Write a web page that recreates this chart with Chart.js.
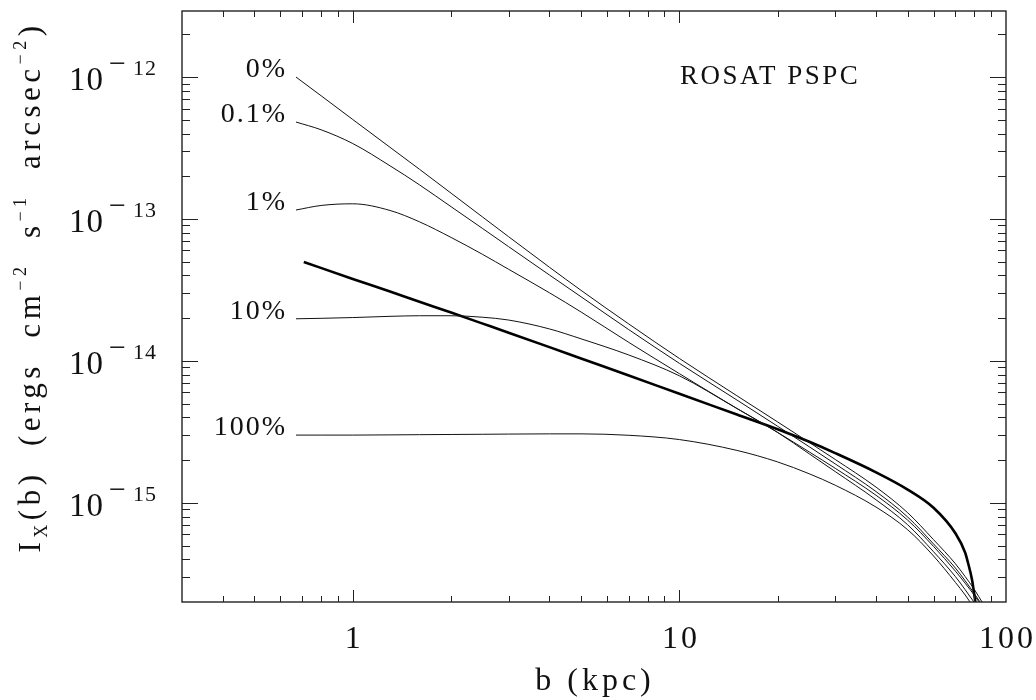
<!DOCTYPE html>
<html>
<head>
<meta charset="utf-8">
<script src="https://cdn.jsdelivr.net/npm/chart.js@4.4.1/dist/chart.umd.min.js"></script>
<style>
  body { margin: 0; background: #fff; }
  canvas { display: block; }
</style>
</head>
<body>
<canvas id="sbChart" width="1036" height="700"></canvas>
<script>
// projected radius b (kpc) for the thin model curves
const bModel = [0.67, 0.8, 1, 1.3, 1.6, 2, 2.5, 3, 4, 5, 7, 10, 15, 20, 25, 30, 40, 50, 60, 70, 75, 80, 85];

// surface brightness I_X(b), ergs cm^-2 s^-1 arcsec^-2
const sb0   = [1.00e-12, 7.38e-13, 5.02e-13, 3.20e-13, 2.24e-13, 1.52e-13, 1.03e-13, 7.50e-14, 4.57e-14, 3.14e-14, 1.82e-14, 1.04e-14, 5.68e-15, 3.71e-15, 2.66e-15, 2.02e-15, 1.29e-15, 8.51e-16, 5.50e-16, 3.72e-16, 3.02e-16, 2.45e-16, 1.95e-16];
const sb01  = [4.82e-13, 4.25e-13, 3.40e-13, 2.37e-13, 1.74e-13, 1.22e-13, 8.55e-14, 6.38e-14, 4.03e-14, 2.83e-14, 1.66e-14, 9.61e-15, 5.30e-15, 3.46e-15, 2.48e-15, 1.88e-15, 1.20e-15, 7.94e-16, 5.13e-16, 3.47e-16, 2.82e-16, 2.29e-16, 1.86e-16];
const sb1   = [1.156e-13, 1.245e-13, 1.279e-13, 1.148e-13, 9.55e-14, 7.41e-14, 5.62e-14, 4.42e-14, 3.02e-14, 2.21e-14, 1.35e-14, 8.13e-15, 4.62e-15, 3.13e-15, 2.28e-15, 1.75e-15, 1.13e-15, 7.55e-16, 4.93e-16, 3.30e-16, 2.71e-16, 2.23e-16, 1.83e-16];
const sb10  = [1.98e-14, 1.995e-14, 2.02e-14, 2.06e-14, 2.08e-14, 2.08e-14, 2.03e-14, 1.94e-14, 1.68e-14, 1.43e-14, 1.10e-14, 7.85e-15, 4.62e-15, 3.13e-15, 2.21e-15, 1.66e-15, 1.05e-15, 7.00e-16, 4.52e-16, 3.02e-16, 2.44e-16, 1.98e-16, 1.62e-16];
const sb100 = [3.00e-15, 3.00e-15, 3.00e-15, 3.01e-15, 3.02e-15, 3.03e-15, 3.04e-15, 3.05e-15, 3.06e-15, 3.06e-15, 2.99e-15, 2.79e-15, 2.34e-15, 1.94e-15, 1.60e-15, 1.33e-15, 9.33e-16, 6.46e-16, 4.22e-16, 2.75e-16, 2.24e-16, 1.80e-16, 1.45e-16];

// heavy curve
const bThick  = [0.708, 1, 1.3, 1.6, 2, 2.5, 3, 4, 5, 7, 10, 15, 20, 25, 30, 40, 50, 60, 70, 75, 76.5, 78.7, 80, 81.5];
const sbThick = [4.98e-14, 3.78e-14, 3.08e-14, 2.61e-14, 2.19e-14, 1.83e-14, 1.58e-14, 1.25e-14, 1.04e-14, 7.89e-15, 5.86e-15, 4.19e-15, 3.30e-15, 2.69e-15, 2.24e-15, 1.64e-15, 1.24e-15, 9.23e-16, 6.10e-16, 4.45e-16, 3.78e-16, 2.87e-16, 2.24e-16, 1.66e-16];

const curveLabels = ['0%', '0.1%', '1%', '10%', '100%'];
const xTickLabels = [1, 10, 100];
const yTickExps = [-12, -13, -14, -15];

const SERIF = '"Liberation Serif", "DejaVu Serif", serif';

function pts(xs, ys) {
    return xs.map((b, i) => ({ x: b, y: ys[i] }));
}

function thin(label, ys) {
    return {
        label: label,
        data: pts(bModel, ys),
        borderColor: '#111',
        borderWidth: 1,
        pointRadius: 0,
        cubicInterpolationMode: 'monotone'
    };
}

// box, inward ticks on all four sides, tick labels and titles
const decor = {
    id: 'decor',
    afterDraw(chart) {
        const { ctx, chartArea: a, scales: { x, y } } = chart;
        ctx.save();

        ctx.strokeStyle = '#222';
        ctx.lineWidth = 1.4;
        ctx.strokeRect(a.left, a.top, a.right - a.left, a.bottom - a.top);

        ctx.lineWidth = 1;
        ctx.beginPath();
        for (let e = -1; e <= 2; e++) {
            for (let k = 1; k <= 9; k++) {
                const v = k * Math.pow(10, e);
                if (v <= x.min * 1.001 || v >= x.max * 0.999) continue;
                const px = Math.round(x.getPixelForValue(v)) + 0.5;
                const len = k === 1 ? 12 : 6;
                ctx.moveTo(px, a.bottom); ctx.lineTo(px, a.bottom - len);
                ctx.moveTo(px, a.top); ctx.lineTo(px, a.top + len);
            }
        }
        for (let e = -16; e <= -12; e++) {
            for (let k = 1; k <= 9; k++) {
                const v = k * Math.pow(10, e);
                if (v <= y.min * 1.001 || v >= y.max * 0.999) continue;
                const py = Math.round(y.getPixelForValue(v)) + 0.5;
                const len = k === 1 ? 16 : 8;
                ctx.moveTo(a.left, py); ctx.lineTo(a.left + len, py);
                ctx.moveTo(a.right, py); ctx.lineTo(a.right - len, py);
            }
        }
        ctx.stroke();

        ctx.fillStyle = '#111';
        ctx.textBaseline = 'alphabetic';

        // x tick labels
        ctx.font = '32px ' + SERIF;
        ctx.letterSpacing = '3px';
        ctx.textAlign = 'center';
        xTickLabels.forEach(v => {
            ctx.fillText(String(v), x.getPixelForValue(v) + 1.5, a.bottom + 46);
        });
        ctx.letterSpacing = '4px';
        ctx.fillText('b (kpc)', 595, 690);

        // y tick labels as powers of ten
        ctx.letterSpacing = '1px';
        yTickExps.forEach(e => {
            const py = y.getPixelForValue(Math.pow(10, e));
            ctx.font = '33px ' + SERIF;
            ctx.textAlign = 'right';
            ctx.fillText('10', 104, py + 13);
            ctx.textAlign = 'left';
            ctx.font = '30px ' + SERIF;
            ctx.fillText('\u2212', 109, py - 4);
            ctx.font = '22px ' + SERIF;
            ctx.fillText(String(-e), 133, py - 2);
        });

        // curve labels at the start of each thin curve
        ctx.font = '28px ' + SERIF;
        ctx.letterSpacing = '2px';
        ctx.textAlign = 'right';
        chart.data.datasets.forEach((ds, i) => {
            if (!ds.label) return;
            const p0 = chart.getDatasetMeta(i).data[0];
            ctx.fillText(ds.label, p0.x - 9, p0.y);
        });

        ctx.font = '27px ' + SERIF;
        ctx.letterSpacing = '2.5px';
        ctx.textAlign = 'left';
        ctx.fillText('ROSAT PSPC', 680, 84);

        // rotated y title with sub/superscripts
        const parts = [
            ['I', 'n'], ['X', 'sub'], ['(b)  (ergs  cm', 'n'], ['\u22122', 'sup'],
            ['  s', 'n'], ['\u22121', 'sup'], ['  arcsec', 'n'], ['\u22122', 'sup'], [')', 'n']
        ];
        const fontFor = s => (s === 'n' ? '31px ' : '18px ') + SERIF;
        ctx.letterSpacing = '4.5px';
        let total = 0;
        parts.forEach(([t, s]) => { ctx.font = fontFor(s); total += ctx.measureText(t).width; });
        ctx.translate(40, 287);
        ctx.rotate(-Math.PI / 2);
        let cx = -total / 2;
        parts.forEach(([t, s]) => {
            ctx.font = fontFor(s);
            const dy = s === 'sub' ? 7 : (s === 'sup' ? -14 : 0);
            ctx.fillText(t, cx, dy);
            cx += ctx.measureText(t).width;
        });

        ctx.restore();
    }
};

new Chart(document.getElementById('sbChart').getContext('2d'), {
    type: 'line',
    data: {
        datasets: [
            thin(curveLabels[0], sb0),
            thin(curveLabels[1], sb01),
            thin(curveLabels[2], sb1),
            thin(curveLabels[3], sb10),
            thin(curveLabels[4], sb100),
            {
                label: '',
                data: pts(bThick, sbThick),
                borderColor: '#000',
                borderWidth: 2.6,
                pointRadius: 0,
                cubicInterpolationMode: 'monotone'
            }
        ]
    },
    options: {
        responsive: false,
        animation: false,
        layout: { padding: { left: 182, right: 30, top: 11, bottom: 98 } },
        plugins: {
            legend: { display: false },
            tooltip: { enabled: false }
        },
        scales: {
            x: {
                type: 'logarithmic',
                min: 0.3,
                max: 100,
                ticks: { display: false },
                grid: { display: false },
                border: { display: false },
                afterFit: s => { s.height = 0; }
            },
            y: {
                type: 'logarithmic',
                min: 2e-16,
                max: 2.92e-12,
                ticks: { display: false },
                grid: { display: false },
                border: { display: false },
                afterFit: s => { s.width = 0; }
            }
        }
    },
    plugins: [decor]
});
</script>
</body>
</html>
